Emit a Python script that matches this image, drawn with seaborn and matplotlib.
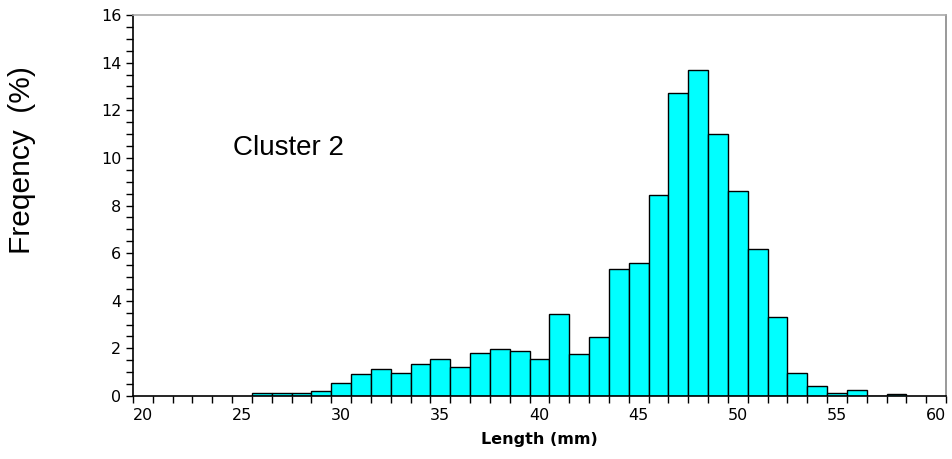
import numpy as np
import pandas as pd
import matplotlib
matplotlib.use("Agg")
import matplotlib.pyplot as plt
import seaborn as sns

# bin centres (mm) and frequency (%)
lengths = [26, 27, 28, 29, 30, 31, 32, 33, 34, 35, 36, 37, 38, 39, 40, 41,
           42, 43, 44, 45, 46, 47, 48, 49, 50, 51, 52, 53, 54, 55, 56, 57, 58]
freq_pct = [0.14, 0.14, 0.14, 0.2, 0.56, 0.94, 1.15, 0.98, 1.36, 1.57, 1.2, 1.82,
            1.99, 1.9, 1.57, 3.46, 1.78, 2.47, 5.32, 5.57, 8.46, 12.72, 13.68,
            11.02, 8.6, 6.16, 3.31, 0.98, 0.42, 0.14, 0.24, 0.0, 0.1]
x_labels = [20, 25, 30, 35, 40, 45, 50, 55, 60]
y_labels = [0, 2, 4, 6, 8, 10, 12, 14, 16]

df = pd.DataFrame({"length": lengths, "freq": freq_pct})

sns.set_style("ticks")
plt.rcParams["font.family"] = ["Liberation Sans", "DejaVu Sans"]
plt.rcParams["text.color"] = "black"
plt.rcParams["xtick.color"] = "black"
plt.rcParams["ytick.color"] = "black"
plt.rcParams["axes.labelcolor"] = "black"

fig = plt.figure(figsize=(9.52, 4.59), dpi=100)
ax = fig.add_axes([133 / 952, 1 - 396 / 459, 813 / 952, 381 / 459])

sns.histplot(data=df, x="length", weights="freq", binwidth=1,
             binrange=(lengths[0] - 0.5, lengths[-1] + 0.5), ax=ax,
             color="#00ffff", alpha=1.0, edgecolor="black", linewidth=1.0)

ax.set_xlim(19.5, 60.5)
ax.set_ylim(0, 16)

ax.set_xticks(x_labels)
ax.set_xticks(np.arange(19.5, 61.0, 1.0), minor=True)
ax.set_yticks(y_labels)
ax.set_yticks(np.arange(0, 16.01, 0.5), minor=True)
ax.tick_params(axis="x", which="major", length=0, pad=9)
ax.tick_params(axis="x", which="minor", length=5, width=1, color="black", direction="out")
ax.tick_params(axis="y", which="both", length=5, width=1, color="black", direction="out")
for lab in ax.get_xticklabels() + ax.get_yticklabels():
    lab.set_fontfamily("DejaVu Sans")
    lab.set_fontsize(11.5)
    lab.set_color("black")

ax.spines["left"].set_color("black")
ax.spines["bottom"].set_color("black")
ax.spines["top"].set_color("#aaaaaa")
ax.spines["right"].set_color("#888888")
for s in ax.spines.values():
    s.set_linewidth(1.2)

ax.set_xlabel("Length (mm)", fontfamily="DejaVu Sans", fontweight="bold",
              fontsize=11.5, labelpad=6, color="black")
ax.set_ylabel("")
fig.text(22 / 952, 1 - 160 / 459, "Freqency  (%)", rotation=90,
         ha="center", va="center", fontsize=21.5, color="black")
ax.text(24.55, 10.1, "Cluster 2", fontsize=20, ha="left", va="baseline", color="black")

fig.savefig("out.png", dpi=100)
